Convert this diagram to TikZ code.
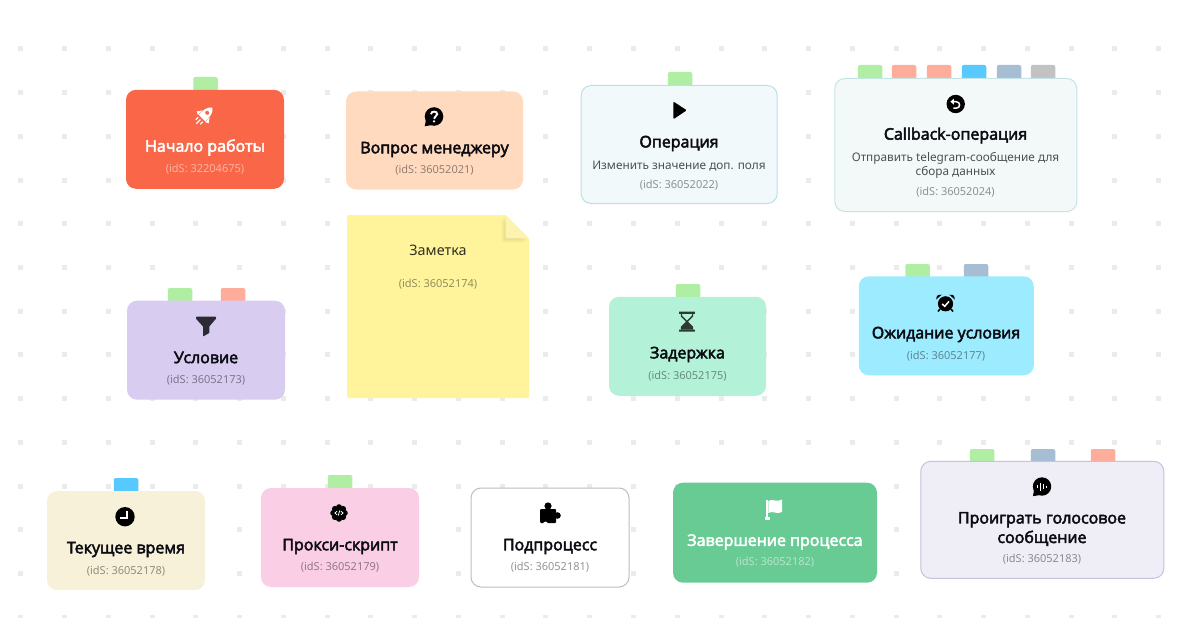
\documentclass[tikz,border=0pt]{standalone}
\usepackage{fontspec}
\setmainfont{Noto Sans}
\newfontfamily\headfont{Open Sans}[AutoFakeBold=3]
\usepackage{tikz}

\definecolor{tabgreen}{HTML}{B0EFA3}
\definecolor{tabsalmon}{HTML}{FFAD9B}
\definecolor{tabblue}{HTML}{57C9FF}
\definecolor{tabslate}{HTML}{A7BDD3}
\definecolor{tabgray}{HTML}{C2C2C2}
\definecolor{griddot}{HTML}{EBEBEB}
\definecolor{inkdark}{HTML}{0B0B12}
\definecolor{orangered}{HTML}{F96748}
\definecolor{peach}{HTML}{FFDABF}
\definecolor{icewhite}{HTML}{F2F9FB}
\definecolor{iceline}{HTML}{BFDDE8}
\definecolor{mistwhite}{HTML}{F3F9F9}
\definecolor{mistline}{HTML}{C6E4E4}
\definecolor{lilac}{HTML}{D8CCF0}
\definecolor{noteyellow}{HTML}{FFF49C}
\definecolor{notefold}{HTML}{FDF3B0}
\definecolor{mint}{HTML}{B3F2D9}
\definecolor{skyblue}{HTML}{9DEBFF}
\definecolor{cream}{HTML}{F8F1DA}
\definecolor{pinkish}{HTML}{FACFE5}
\definecolor{subline}{HTML}{BDBDC6}
\definecolor{leafgreen}{HTML}{69CB94}
\definecolor{paleviolet}{HTML}{EFEEF6}
\definecolor{violetline}{HTML}{C4C2DE}
\definecolor{funnelink}{HTML}{2B2B33}
\definecolor{sandink}{HTML}{2B3A35}

\begin{document}
\begin{tikzpicture}[x=1pt,y=-1pt,
    tabbox/.style={shape=rectangle, minimum width=24.5pt, minimum height=20pt, inner sep=0pt, outer sep=0pt, rounded corners=2pt, anchor=north},
    card/.style={shape=rectangle, rounded corners=10pt, inner sep=0pt, outer sep=0pt, line width=1pt},
    title/.style={font=\headfont\fontsize{16}{19.5}\selectfont\bfseries, text=inkdark, align=center, inner sep=0pt},
    subtext/.style={font=\fontsize{11.8}{14}\selectfont, text=black, text opacity=.68, align=center, inner sep=0pt},
    idtext/.style={font=\fontsize{11}{12}\selectfont, text=black, text opacity=.42, inner sep=0pt}]
    \useasboundingbox (0,0) rectangle (1200,618);
    \fill[white] (0,0) rectangle (1200,618);

    % background grid of dots
    \foreach \i in {0,...,26}
      \foreach \j in {0,...,13}
        \fill[griddot] ({20.7+43.77*\i-2.5},{49+43.7*\j-2.5}) rectangle ++(5,5);

    % tabs sit behind the cards
    \node[tabbox,fill=tabgreen] (tabStart) at (205.5,77) {};
    \node[tabbox,fill=tabgreen] (tabOper) at (680,72) {};
    \node[tabbox,fill=tabgreen] (tabCbA) at (870,65) {};
    \node[tabbox,fill=tabsalmon] (tabCbB) at (904,65) {};
    \node[tabbox,fill=tabsalmon] (tabCbC) at (939,65) {};
    \node[tabbox,fill=tabblue] (tabCbD) at (974,65) {};
    \node[tabbox,fill=tabslate] (tabCbE) at (1009,65) {};
    \node[tabbox,fill=tabgray] (tabCbF) at (1043,65) {};
    \node[tabbox,fill=tabgreen] (tabCondA) at (180,288) {};
    \node[tabbox,fill=tabsalmon] (tabCondB) at (233,288) {};
    \node[tabbox,fill=tabgreen] (tabDelay) at (688,284) {};
    \node[tabbox,fill=tabgreen] (tabWaitA) at (917.5,264) {};
    \node[tabbox,fill=tabslate] (tabWaitB) at (976,264) {};
    \node[tabbox,fill=tabblue] (tabTime) at (126,478) {};
    \node[tabbox,fill=tabgreen] (tabProxy) at (340,475) {};
    \node[tabbox,fill=tabgreen] (tabVoiceA) at (982,449) {};
    \node[tabbox,fill=tabslate] (tabVoiceB) at (1043,449) {};
    \node[tabbox,fill=tabsalmon] (tabVoiceC) at (1103,449) {};

    % cards
    \node[card,fill=orangered,minimum width=158pt,minimum height=99pt] (start) at (205,139.3) {};
    \node[title,text=white] (startTitle) at (205,147.5) {Начало работы};
    \node[idtext,text=white,text opacity=.5] (startId) at (205,169) {(idS: 32204675)};

    \node[card,fill=peach,minimum width=177pt,minimum height=98pt] (ask) at (434.5,140.5) {};
    \node[title] (askTitle) at (434.5,149.5) {Вопрос менеджеру};
    \node[idtext] (askId) at (434.5,170) {(idS: 36052021)};

    \node[card,fill=icewhite,draw=iceline,minimum width=196pt,minimum height=118pt] (oper) at (679.2,144.5) {};
    \node[title] (operTitle) at (679,143.5) {Операция};
    \node[subtext] (operText) at (679,166) {Изменить значение доп. поля};
    \node[idtext] (operId) at (679,185) {(idS: 36052022)};

    \node[card,fill=mistwhite,draw=mistline,minimum width=242pt,minimum height=133pt] (callback) at (955.8,145) {};
    \node[title] (callbackTitle) at (955.5,135.5) {Callback-операция};
    \node[subtext] (callbackText) at (955.5,165.7) {Отправить telegram-сообщение для\\сбора данных};
    \node[idtext] (callbackId) at (955.5,192) {(idS: 36052024)};

    \node[card,fill=lilac,minimum width=158pt,minimum height=99pt] (cond) at (206,350.2) {};
    \node[title] (condTitle) at (206,357.5) {Условие};
    \node[idtext] (condId) at (206,380) {(idS: 36052173)};

    % note with folded corner
    \fill[noteyellow,rounded corners=1.5pt] (347,215) -- (505.7,215) -- (529,238.3) -- (529,398) -- (347,398) -- cycle;
    \foreach \s in {1,2,3,4}
      \fill[black,opacity=.025] ({505.7-\s},{215+\s}) -- ({529-\s},{238.3+\s}) -- ({505.7-\s},{238.3+\s}) -- cycle;
    \fill[notefold] (505.7,215) -- (529,238.3) -- (505.7,238.3) -- cycle;
    \node[font=\fontsize{14.4}{16}\selectfont,text=black,text opacity=.8,inner sep=0pt] (noteTitle) at (438,250) {Заметка};
    \node[idtext] (noteId) at (438,284) {(idS: 36052174)};

    \node[card,fill=mint,minimum width=157pt,minimum height=99pt] (delay) at (687.5,346.3) {};
    \node[title] (delayTitle) at (687.5,354.5) {Задержка};
    \node[idtext] (delayId) at (687.5,376) {(idS: 36052175)};

    \node[card,fill=skyblue,minimum width=175pt,minimum height=99pt] (wait) at (946.3,325.8) {};
    \node[title] (waitTitle) at (946,334.5) {Ожидание условия};
    \node[idtext] (waitId) at (946,356) {(idS: 36052177)};

    \node[card,fill=cream,minimum width=158pt,minimum height=99pt] (time) at (126,540.5) {};
    \node[title] (timeTitle) at (126,549.5) {Текущее время};
    \node[idtext] (timeId) at (126,571) {(idS: 36052178)};

    \node[card,fill=pinkish,minimum width=158pt,minimum height=99pt] (proxy) at (340,537.5) {};
    \node[title] (proxyTitle) at (340,546.5) {Прокси-скрипт};
    \node[idtext] (proxyId) at (340,567) {(idS: 36052179)};

    \node[card,fill=white,draw=subline,minimum width=158pt,minimum height=99pt] (sub) at (550,537.5) {};
    \node[title] (subTitle) at (550,546.5) {Подпроцесс};
    \node[idtext] (subId) at (550,567) {(idS: 36052181)};

    \node[card,fill=leafgreen,minimum width=204pt,minimum height=100pt] (finish) at (775,532.7) {};
    \node[title,text=white] (finishTitle) at (775,542) {Завершение процесса};
    \node[idtext,text=white,text opacity=.5] (finishId) at (775,562) {(idS: 36052182)};

    \node[card,fill=paleviolet,draw=violetline,minimum width=243pt,minimum height=117pt] (voice) at (1042.3,519.8) {};
    \node[title] (voiceTitle) at (1042,529) {Проиграть голосовое\\сообщение};
    \node[idtext] (voiceId) at (1042,559) {(idS: 36052183)};

    % icons
    \begin{scope}[shift={(204,116)},rotate=-45,white]
      \fill (0,-12) .. controls (4.5,-9) and (5,-3) .. (4.5,3) -- (-4.5,3) .. controls (-5,-3) and (-4.5,-9) .. (0,-12);
      \fill (-5,-3) -- (-8.5,2) -- (-5,3.5) -- cycle;
      \fill (5,-3) -- (8.5,2) -- (5,3.5) -- cycle;
      \fill[orangered] (0,-4.5) circle (2);
      \draw[line width=1.3pt] (0,5) -- (0,11) (-3.2,5) -- (-3.2,8.5) (3.2,5) -- (3.2,8.5);
    \end{scope}

    \begin{scope}[shift={(434,117)}]
      \fill[black] (0,-0.5) circle (9.3);
      \fill[black] (-8,3) -- (-9.3,9.3) -- (-2,8) -- cycle;
      \draw[white,line width=1.9pt] (-3,-2.8) .. controls (-3,-6.3) and (3.2,-6.3) .. (3.2,-2.8) .. controls (3.2,-0.5) and (0,-0.8) .. (0,1.7);
      \fill[white] (0,4.3) circle (1.25);
    \end{scope}

    \fill[black,rounded corners=1pt] (673.3,101.5) -- (686.8,110.3) -- (673.3,119.2) -- cycle;

    \begin{scope}[shift={(955.7,104)}]
      \fill[black] (0,0) circle (9.2);
      \draw[white,line width=1.5pt] (-2.5,-2.3) -- (0.5,-2.3) .. controls (5,-2.3) and (5,4.2) .. (0.5,4.2) -- (-2.3,4.2);
      \fill[white] (-5.3,-2.3) -- (-1.8,-5.3) -- (-1.8,0.7) -- cycle;
    \end{scope}

    \fill[funnelink,rounded corners=0.6pt] (196,316.7) -- (216,316.7) -- (216,318.7) -- (209.3,326.5) -- (209.3,333) -- (203,336.5) -- (203,326.5) -- (196,318.7) -- cycle;

    \begin{scope}[shift={(687,321.7)}]
      \fill[sandink] (-7.8,-10) rectangle (7.8,-7.8) (-7.8,7.8) rectangle (7.8,10);
      \draw[sandink,line width=1.4pt] (-5.5,-8) -- (-5.5,-5.5) -- (5.5,5.5) -- (5.5,8) (5.5,-8) -- (5.5,-5.5) -- (-5.5,5.5) -- (-5.5,8);
      \fill[sandink] (0,0.5) -- (5.5,6) -- (5.5,8) -- (-5.5,8) -- (-5.5,6) -- cycle;
    \end{scope}

    \begin{scope}[shift={(945.5,303)}]
      \fill[black] (0,0.8) circle (7.6);
      \fill[black] (-9.3,-3.5) .. controls (-9.5,-8) and (-6,-9.3) .. (-3.8,-8.3) -- cycle;
      \fill[black] (9.3,-3.5) .. controls (9.5,-8) and (6,-9.3) .. (3.8,-8.3) -- cycle;
      \draw[black,line width=1.6pt] (-5.5,6) -- (-7.5,8.5) (5.5,6) -- (7.5,8.5);
      \draw[white,line width=1.5pt] (-3.3,1) -- (-0.8,3.3) -- (3.5,-1.6);
    \end{scope}

    \begin{scope}[shift={(125,516.7)}]
      \fill[black] (0,0) circle (9.7);
      \draw[white,line width=2pt] (1.8,-6) -- (1.8,1.6) -- (-5.3,1.6);
    \end{scope}

    \begin{scope}[shift={(339,513)}]
      \fill[black] (0,0) circle (6.5);
      \foreach \a in {0,45,...,315}
        \fill[black] (\a:5.8) circle (3);
      \draw[white,line width=0.8pt] (-2,-1.8) -- (-4,0) -- (-2,1.8) (2,-1.8) -- (4,0) -- (2,1.8) (0.8,-2.6) -- (-0.8,2.6);
    \end{scope}

    \begin{scope}[shift={(549,513)}]
      \fill[black,rounded corners=1pt] (-9,-4) rectangle (7,10);
      \fill[black] (-1,-7) circle (3.6);
      \fill[black] (8.5,2.5) circle (3.3);
      \fill[white] (-3.5,11) circle (2.4);
    \end{scope}

    \fill[white] (766.2,499.5) rectangle (768.3,518.5);
    \fill[white] (764.8,517.3) rectangle (770,519.5);
    \fill[white] (768.3,501) .. controls (772,498) and (777,503) .. (782,499.5) -- (782,512) .. controls (777,515) and (772,510) .. (768.3,513) -- cycle;

    \begin{scope}[shift={(1042,487)}]
      \fill[black] (0,-0.5) circle (9.2);
      \fill[black] (-8,3) -- (-9,9.2) -- (-2,8) -- cycle;
      \draw[white,line width=1.2pt] (-4.5,-2) -- (-4.5,1) (-1.5,-4.5) -- (-1.5,3.5) (1.5,-3) -- (1.5,2) (4.5,-1.5) -- (4.5,0.5);
    \end{scope}
\end{tikzpicture}
\end{document}
